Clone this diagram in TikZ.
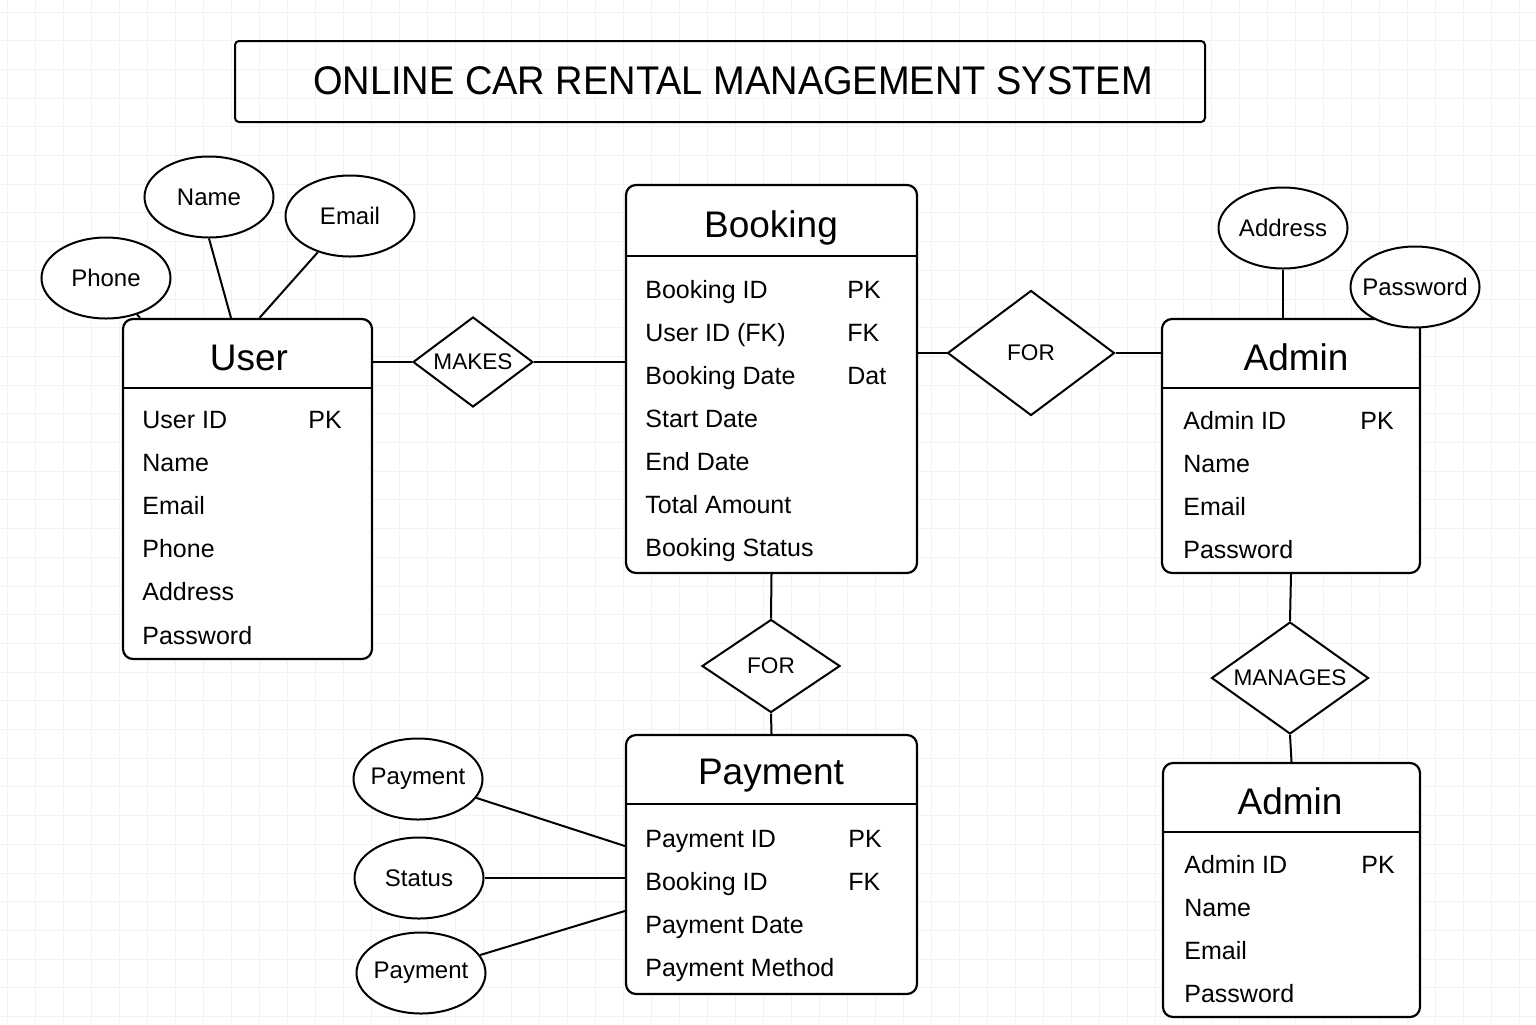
\documentclass[tikz,border=0pt]{standalone}
\usepackage{fontspec}
\setmainfont{Liberation Sans}
\usepackage{graphicx}
\usetikzlibrary{shapes.geometric}
\colorlet{grid line}{black!5}
\colorlet{er edge}{black}
\tikzset{entity/.style={draw=er edge, line width=1.1pt, rounded corners=5pt, fill=white, inner sep=0pt},
	attr/.style={ellipse, draw=er edge, line width=1pt, fill=white, minimum width=64.5pt, minimum height=40.5pt, inner xsep=-14pt, inner ysep=-6pt, font=\fontsize{12}{14}\selectfont},
	rel/.style={diamond, draw=er edge, line width=1pt, fill=white, aspect=1.4, inner sep=0pt, font=\fontsize{11.3}{13}\selectfont},
	etitle/.style={anchor=base, inner sep=0pt, font=\fontsize{18.5}{22}\selectfont},
	row/.style={anchor=base west, inner sep=0pt, font=\fontsize{12.5}{15}\selectfont},
	link/.style={draw=er edge, line width=1pt}}

\begin{document}
\begin{tikzpicture}[x=0.5pt,y=-0.5pt]
		\useasboundingbox (0,0) rectangle (1536,1024);
		\fill[white] (0,0) rectangle (1536,1024);
		\foreach \gx in {7.7,35.7,...,1536} \draw[grid line, line width=0.5pt] (\gx,0) -- (\gx,1024);
		\foreach \gy in {12,40.7,...,1024} \draw[grid line, line width=0.5pt] (0,\gy) -- (1536,\gy);
		
		\node[draw=er edge, line width=1pt, rounded corners=2pt, minimum width=485pt, minimum height=40.5pt] (title) at (720,81.5) {};
		\node[inner sep=0pt, font=\fontsize{20}{24}\selectfont] (title-text) at (733,81) {\scalebox{0.95}[1]{ONLINE CAR RENTAL MANAGEMENT SYSTEM}};
		
		% entities
		\node[entity, minimum width=124.5pt, minimum height=170pt] (user) at (247.5,489) {};
		\draw[link] ([yshift=-35pt]user.north west) -- ([yshift=-35pt]user.north east);
		\node[etitle] (user-title) at (249,370) {User};
		\foreach \t [count=\i] in {User ID,Name,Email,Phone,Address,Password}
			\node[row] (user-row\i) at (142,{428+43.2*(\i-1)}) {\t};
		\node[row] (user-pk) at (308,428) {PK};
		
		\node[entity, minimum width=145.5pt, minimum height=194pt] (booking) at (771.5,379) {};
		\draw[link] ([yshift=-36pt]booking.north west) -- ([yshift=-36pt]booking.north east);
		\node[etitle] (booking-title) at (771,237) {Booking};
		\foreach \t [count=\i] in {Booking ID,{User ID (FK)},Booking Date,Start Date,End Date,Total Amount,Booking Status}
			\node[row] (booking-row\i) at (645,{298+43*(\i-1)}) {\t};
		\node[row] (booking-pk) at (847,298) {PK};
		\node[row] (booking-fk) at (847,341) {FK};
		\node[row] (booking-dat) at (847,384) {Dat};
		
		\node[entity, minimum width=129pt, minimum height=127pt] (admin) at (1291,446) {};
		\draw[link] ([yshift=-35pt]admin.north west) -- ([yshift=-35pt]admin.north east);
		\node[etitle] (admin-title) at (1296,370) {Admin};
		\foreach \t [count=\i] in {Admin ID,Name,Email,Password}
			\node[row] (admin-row\i) at (1183,{429+43.3*(\i-1)}) {\t};
		\node[row] (admin-pk) at (1360,429) {PK};
		
		\node[entity, minimum width=145.5pt, minimum height=129.5pt] (payment) at (771.5,864.5) {};
		\draw[link] ([yshift=-35pt]payment.north west) -- ([yshift=-35pt]payment.north east);
		\node[etitle] (payment-title) at (771,784) {Payment};
		\foreach \t [count=\i] in {Payment ID,Booking ID,Payment Date,Payment Method}
			\node[row] (payment-row\i) at (645,{847+43*(\i-1)}) {\t};
		\node[row] (payment-pk) at (848,847) {PK};
		\node[row] (payment-fk) at (848,890) {FK};
		
		\node[entity, minimum width=128.5pt, minimum height=127pt] (admintwo) at (1291.5,890) {};
		\draw[link] ([yshift=-35pt]admintwo.north west) -- ([yshift=-35pt]admintwo.north east);
		\node[etitle] (admintwo-title) at (1290,814) {Admin};
		\foreach \t [count=\i] in {Admin ID,Name,Email,Password}
			\node[row] (admintwo-row\i) at (1184,{873+43.3*(\i-1)}) {\t};
		\node[row] (admintwo-pk) at (1361,873) {PK};
		
		% attributes
		\node[attr] (phone) at (106,278) {Phone};
		\node[attr] (name) at (209,197) {Name};
		\node[attr] (email) at (350,216) {Email};
		\node[attr] (address) at (1283,228) {Address};
		\node[attr] (password) at (1415,287) {Password};
		\node[attr] (payone) at (418,779) {Payment};
		\node[attr] (status) at (419,878) {Status};
		\node[attr] (paytwo) at (421,973) {Payment};
		
		% relationships
		\node[rel, minimum width=60pt, minimum height=45pt] (makes) at (473,362) {MAKES};
		\node[rel, minimum width=83.5pt, minimum height=62.5pt] (forone) at (1031,353) {FOR};
		\node[rel, minimum width=69pt, minimum height=46.5pt] (fortwo) at (771,666) {FOR};
		\node[rel, minimum width=78.5pt, minimum height=56pt] (manages) at (1290,678) {MANAGES};
		
		\draw[link] (makes.west) -- (makes.west -| user.east);
		\draw[link] (makes.east) -- (makes.east -| booking.west);
		\draw[link] (forone.west) -- (forone.west -| booking.east);
		\draw[link] (forone.east) -- (forone.east -| admin.west);
		\draw[link] (booking.south) -- (fortwo.north);
		\draw[link] (fortwo.south) -- (payment.north);
		\draw[link] (admin.south) -- (manages.north);
		\draw[link] (manages.south) -- (admintwo.north);
		\draw[link] (phone) -- ([xshift=-53.75pt]user.north);
		\draw[link] (name.south) -- ([xshift=-8.25pt]user.north);
		\draw[link] (email) -- ([xshift=6pt]user.north);
		\draw[link] (address.south) -- (address.south |- admin.north);
		\draw[link] (payone) -- ([yshift=9.25pt]payment.west);
		\draw[link] (status) -- (status -| payment.west);
		\draw[link] (paytwo) -- ([yshift=-23.25pt]payment.west);
		
		\end{tikzpicture}
\end{document}
